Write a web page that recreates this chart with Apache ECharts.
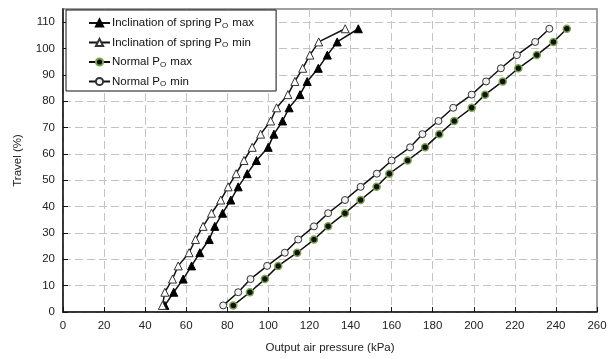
<!DOCTYPE html>
<html><head><meta charset="utf-8">
<script src="https://cdn.jsdelivr.net/npm/echarts@6/dist/echarts.min.js"></script>
<style>html,body{margin:0;padding:0;background:#fff}#c{width:616px;height:359px}</style>
</head><body><div id="c"></div>
<script>
const travel = [2.5, 7.5, 12.5, 17.5, 22.5, 27.5, 32.5, 37.5, 42.5, 47.5, 52.5, 57.5, 62.5, 67.5, 72.5, 77.5, 82.5, 87.5, 92.5, 97.5, 102.5, 107.5];
const springMaxPressure = [49.6, 53.9, 58.5, 62.6, 66.6, 71.2, 73.9, 77.7, 81.7, 85.3, 89.7, 94.2, 99.9, 102.7, 106.9, 110.1, 115.4, 118.9, 124.3, 128.7, 133.5, 143.8];
const springMinPressure = [48.4, 49.6, 53.3, 56.1, 61.4, 64.5, 68.2, 72.3, 76.8, 80.4, 84.3, 88.1, 92.1, 96.2, 101.1, 104.0, 109.5, 112.9, 116.7, 120.2, 124.5, 137.4];
const normalMaxPressure = [82.9, 91.0, 98.3, 104.8, 114.0, 122.2, 129.1, 137.3, 144.9, 152.7, 158.9, 167.8, 176.3, 183.2, 190.5, 199.0, 205.5, 214.1, 221.7, 230.7, 238.8, 245.3];
const normalMinPressure = [78.0, 85.3, 91.3, 99.4, 108.0, 114.5, 122.2, 129.1, 137.3, 144.9, 152.8, 160.0, 169.0, 175.0, 182.8, 190.0, 199.0, 206.0, 213.2, 221.0, 229.9, 236.8];
const seriesNames = ['Inclination of spring Po max', 'Inclination of spring Po min', 'Normal Po max', 'Normal Po min'];
const legendLabels = ['Inclination of spring P{sub|O} max', 'Inclination of spring P{sub|O} min', 'Normal P{sub|O} max', 'Normal P{sub|O} min'];
const xTitle = 'Output air pressure (kPa)';
const yTitle = 'Travel (%)';

const pairs = xs => xs.map((x, i) => [x, travel[i]]);
const font = '"Liberation Sans", Arial, sans-serif';

const chart = echarts.init(document.getElementById('c'), null, {renderer: 'canvas'});
const lineStyle = {color: '#111', width: 1.5};
chart.setOption({
  animation: false,
  backgroundColor: '#fff',
  textStyle: {fontFamily: font},
  grid: {left: 63, right: 19, top: 9, bottom: 45, show: true, borderColor: '#808080', borderWidth: 1.5, backgroundColor: 'transparent'},
  legend: {
    orient: 'vertical', left: 66, top: 10,
    backgroundColor: '#fff', borderColor: '#111', borderWidth: 1,
    padding: [7, 22, 3, 22],
    itemWidth: 21, itemHeight: 9, itemGap: 7,
    data: seriesNames,
    formatter: n => legendLabels[seriesNames.indexOf(n)],
    textStyle: {fontFamily: font, fontSize: 11.5, color: '#111', padding: [0, 0, 0, -3],
      rich: {sub: {fontSize: 8, fontFamily: font, color: '#111', padding: [5, 1, 0, 0]}}}
  },
  xAxis: {
    type: 'value', min: 0, max: 260, interval: 20,
    name: xTitle, nameLocation: 'middle', nameGap: 30,
    nameTextStyle: {fontSize: 11.5, color: '#222', fontFamily: font},
    axisLine: {lineStyle: {color: '#111', width: 1.5}},
    axisTick: {inside: true, length: 5, lineStyle: {color: '#111'}},
    axisLabel: {fontSize: 11.5, color: '#222', margin: 8, fontFamily: font},
    splitLine: {show: true, showMaxLine: false, lineStyle: {color: '#c4c4c4', type: [8, 4], width: 1}}
  },
  yAxis: {
    type: 'value', min: 0, max: 115, interval: 10,
    name: yTitle, nameLocation: 'middle', nameGap: 39, nameRotate: 90,
    nameTextStyle: {fontSize: 11.5, color: '#222', fontFamily: font},
    axisLine: {show: true, lineStyle: {color: '#111', width: 1.5}},
    axisTick: {show: true, inside: true, length: 5, lineStyle: {color: '#111'}},
    axisLabel: {fontSize: 11.5, color: '#222', margin: 8, fontFamily: font, showMaxLabel: false,
      formatter: v => (v > 110 ? '' : String(v))},
    splitLine: {show: true, showMaxLine: false, lineStyle: {color: '#c4c4c4', type: [8, 4], width: 1}}
  },
  series: [
    {name: seriesNames[0], type: 'line', data: pairs(springMaxPressure), symbol: 'triangle', symbolSize: 8,
     lineStyle, itemStyle: {color: '#000', borderColor: '#000', borderWidth: 1}},
    {name: seriesNames[1], type: 'line', data: pairs(springMinPressure), symbol: 'triangle', symbolSize: 8,
     lineStyle, itemStyle: {color: '#fff', borderColor: '#333', borderWidth: 1}},
    {name: seriesNames[2], type: 'line', data: pairs(normalMaxPressure), symbol: 'circle', symbolSize: 7,
     lineStyle, itemStyle: {color: '#111', borderColor: '#7aa64a', borderWidth: 1.5}},
    {name: seriesNames[3], type: 'line', data: pairs(normalMinPressure), symbol: 'circle', symbolSize: 7,
     lineStyle, itemStyle: {color: '#f2f2f2', borderColor: '#333', borderWidth: 1}}
  ]
});
</script></body></html>
